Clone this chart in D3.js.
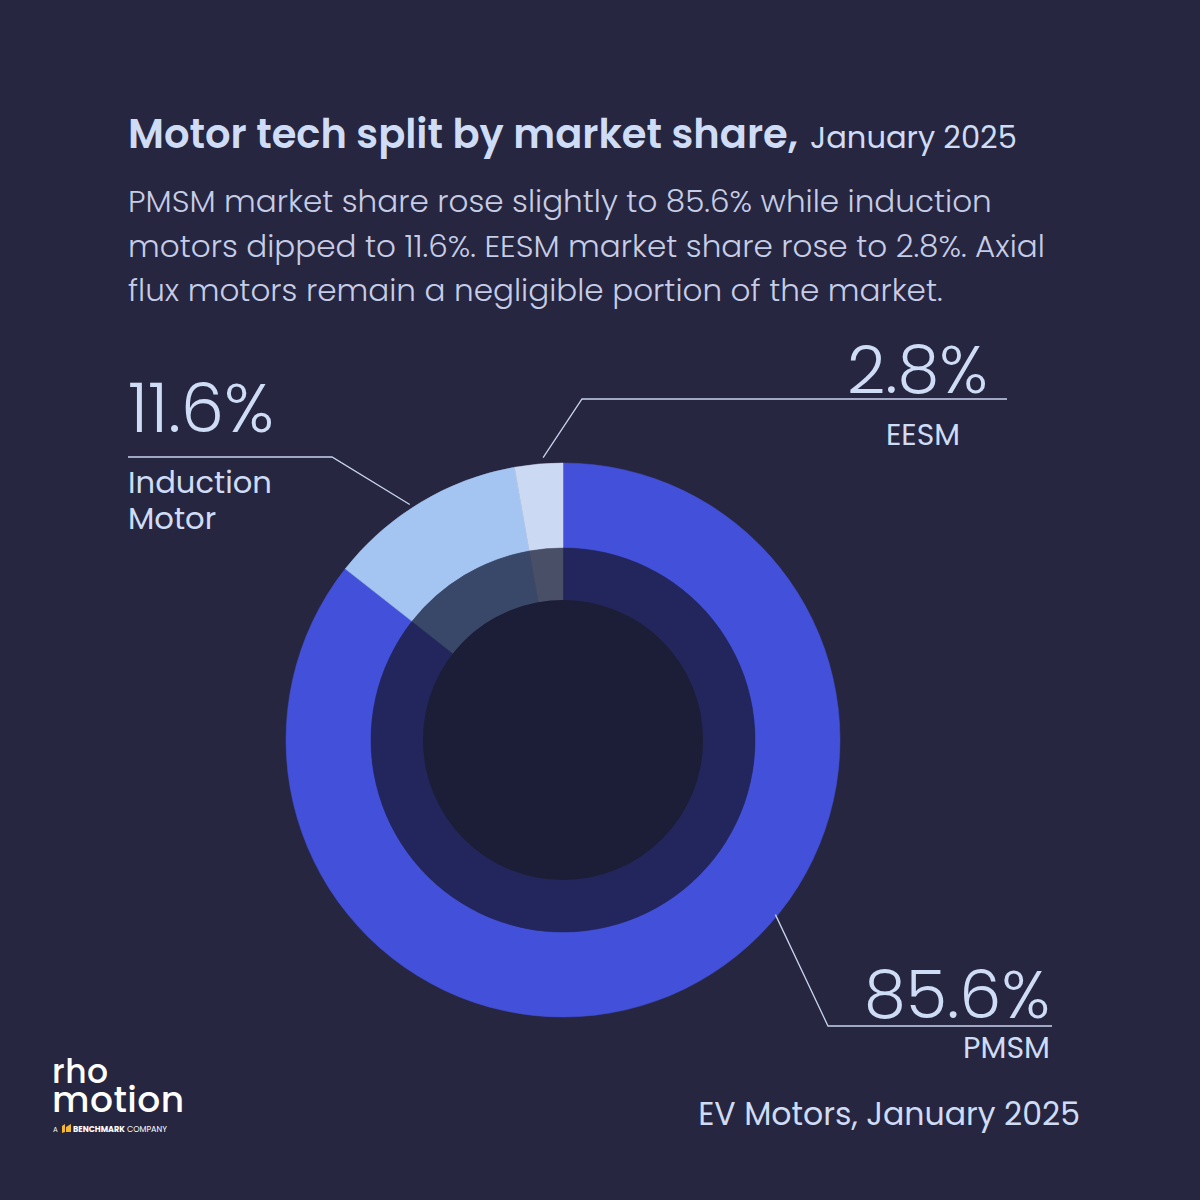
<!DOCTYPE html>
<html>
<head>
<meta charset="utf-8">
<script src="https://cdn.jsdelivr.net/npm/d3@7"></script>
<style>
  html, body { margin: 0; padding: 0; background: #272640; }
  svg { display: block; }
  text { font-family: "Poppins", "Open Sans", "Noto Sans", sans-serif; }
</style>
</head>
<body>
<svg id="chart" width="1200" height="1200"></svg>
<script>
// ---- data ----
const categories = ["PMSM", "Induction Motor", "EESM"];
const shares = [85.6, 11.6, 2.8];
const valueLabels = ["85.6%", "11.6%", "2.8%"];
const titleText = "Motor tech split by market share,";
const titleDate = "January 2025";
const subtitleLines = [
  "PMSM market share rose slightly to 85.6% while induction",
  "motors dipped to 11.6%. EESM market share rose to 2.8%. Axial",
  "flux motors remain a negligible portion of the market."
];
const footerText = "EV Motors, January 2025";

// ---- styles ----
const bg = "#272640";
const sliceColors = ["#4350d9", "#a4c4f2", "#ccd9f3"];
const bandColors = ["#22265c", "#394868", "#4a4f68"];
const textColor = "#cfdcf5";
const subColor = "#c6cde6";

const svg = d3.select("#chart");
svg.append("rect").attr("width", 1200).attr("height", 1200).attr("fill", bg);

function fit(sel, w) {
  const n = sel.node();
  const cur = n.getComputedTextLength();
  const fs = parseFloat(sel.attr("font-size"));
  sel.attr("font-size", fs * w / cur);
  return sel;
}

// ---- title ----
const t = svg.append("text").attr("x", 128).attr("y", 148).attr("fill", textColor)
  .attr("font-size", 36).attr("font-weight", 600).text(titleText);
fit(t, 670);
const td = svg.append("text").attr("x", 810).attr("y", 148).attr("fill", textColor)
  .attr("font-size", 30).attr("font-weight", 400).text(titleDate);
fit(td, 207);

const subW = [864, 917, 815];
subtitleLines.forEach((l, i) => {
  const s = svg.append("text").attr("x", 128).attr("y", 212 + i * 44.5)
    .attr("fill", subColor).attr("font-size", 30).attr("font-weight", 300).text(l);
  fit(s, subW[i]);
});

// ---- donut ----
const cx = 563, cy = 740;
const rOuter = 277, rBand = 192, rInner = 140;
const pie = d3.pie().sort(null).value(d => d)(shares);
const g = svg.append("g").attr("transform", `translate(${cx},${cy})`);
const arcOuter = d3.arc().innerRadius(rBand).outerRadius(rOuter);
const arcBand = d3.arc().innerRadius(rInner).outerRadius(rBand);
g.selectAll("path.slice").data(pie).join("path").attr("class", "slice")
  .attr("d", arcOuter).attr("fill", (d, i) => sliceColors[i])
  .attr("stroke", (d, i) => sliceColors[i]).attr("stroke-width", 0.5);
g.selectAll("path.band").data(pie).join("path").attr("class", "band")
  .attr("d", arcBand).attr("fill", (d, i) => bandColors[i])
  .attr("stroke", (d, i) => bandColors[i]).attr("stroke-width", 0.5);
g.append("circle").attr("r", rInner).attr("fill", "#1c1d36");

// ---- annotations ----
const layout = [
  { frac: 0.42, r: 275, elbow: [828, 1026], end: [1052, 1026], vx: 1050, vy: 1018, anchor: "end", vw: 186, name: ["PMSM"], nx: 1050, ny: 1058, nw: 87 },
  { frac: 0.45, r: 281, elbow: [332, 457], end: [128, 457], vx: 128, vy: 432, anchor: "start", vw: 146, name: ["Induction", "Motor"], nx: 128, ny: 493, nw: 144 },
  { frac: 0.6, r: 283, elbow: [582, 399], end: [1007, 399], vx: 847, vy: 393, anchor: "start", vw: 141, name: ["EESM"], nx: 886, ny: 445, nw: 74 }
];
pie.forEach((p, i) => {
  const L = layout[i];
  const a = p.startAngle + (p.endAngle - p.startAngle) * L.frac;
  const px = cx + L.r * Math.sin(a), py = cy - L.r * Math.cos(a);
  svg.append("polyline")
    .attr("points", [[px, py], L.elbow, L.end].map(q => q.join(",")).join(" "))
    .attr("fill", "none").attr("stroke", "#c9d4ee").attr("stroke-width", 1.3);
  const v = svg.append("text").attr("x", L.vx).attr("y", L.vy).attr("text-anchor", L.anchor)
    .attr("fill", textColor).attr("font-size", 64).attr("font-weight", 300).text(valueLabels[i]);
  fit(v, L.vw);
  let fs = null;
  L.name.forEach((n, j) => {
    const s = svg.append("text").attr("x", L.nx).attr("y", L.ny + j * 36).attr("text-anchor", L.anchor)
      .attr("fill", textColor).attr("font-size", 29).attr("font-weight", 400).text(n);
    if (j === 0) { fit(s, L.nw); fs = s.attr("font-size"); } else s.attr("font-size", fs);
  });
});

// ---- footer ----
const f = svg.append("text").attr("x", 1080).attr("y", 1125).attr("text-anchor", "end")
  .attr("fill", textColor).attr("font-size", 30).attr("font-weight", 400).text(footerText);
fit(f, 382);

// ---- logo ----
const logo = svg.append("g");
logo.append("text").attr("x", 52).attr("y", 1083).attr("fill", "#ffffff")
  .attr("font-size", 33).attr("font-weight", 500).attr("letter-spacing", 0.5).text("rho");
const r2 = logo.append("text").attr("x", 52).attr("y", 1112).attr("fill", "#ffffff")
  .attr("font-size", 33).attr("font-weight", 500).attr("letter-spacing", 0.5).text("motion");
fit(r2, 133);
logo.append("text").attr("x", 53).attr("y", 1132).attr("fill", "#ffffff")
  .attr("font-size", 7).attr("font-weight", 400).text("A");
logo.append("path").attr("d", "M62,1126 l3,-2 l0,8 l-3,1 z M66,1127 l5,-3 l0,8 l-5,0 z").attr("fill", "#f5b82e");
const bm = logo.append("text").attr("x", 73).attr("y", 1132).attr("fill", "#ffffff")
  .attr("font-size", 8).attr("font-weight", 700).text("BENCHMARK");
fit(bm, 52);
const cp = logo.append("text").attr("x", 127).attr("y", 1132).attr("fill", "#ffffff")
  .attr("font-size", 8).attr("font-weight", 400).text("COMPANY");
fit(cp, 40);
</script>
</body>
</html>
